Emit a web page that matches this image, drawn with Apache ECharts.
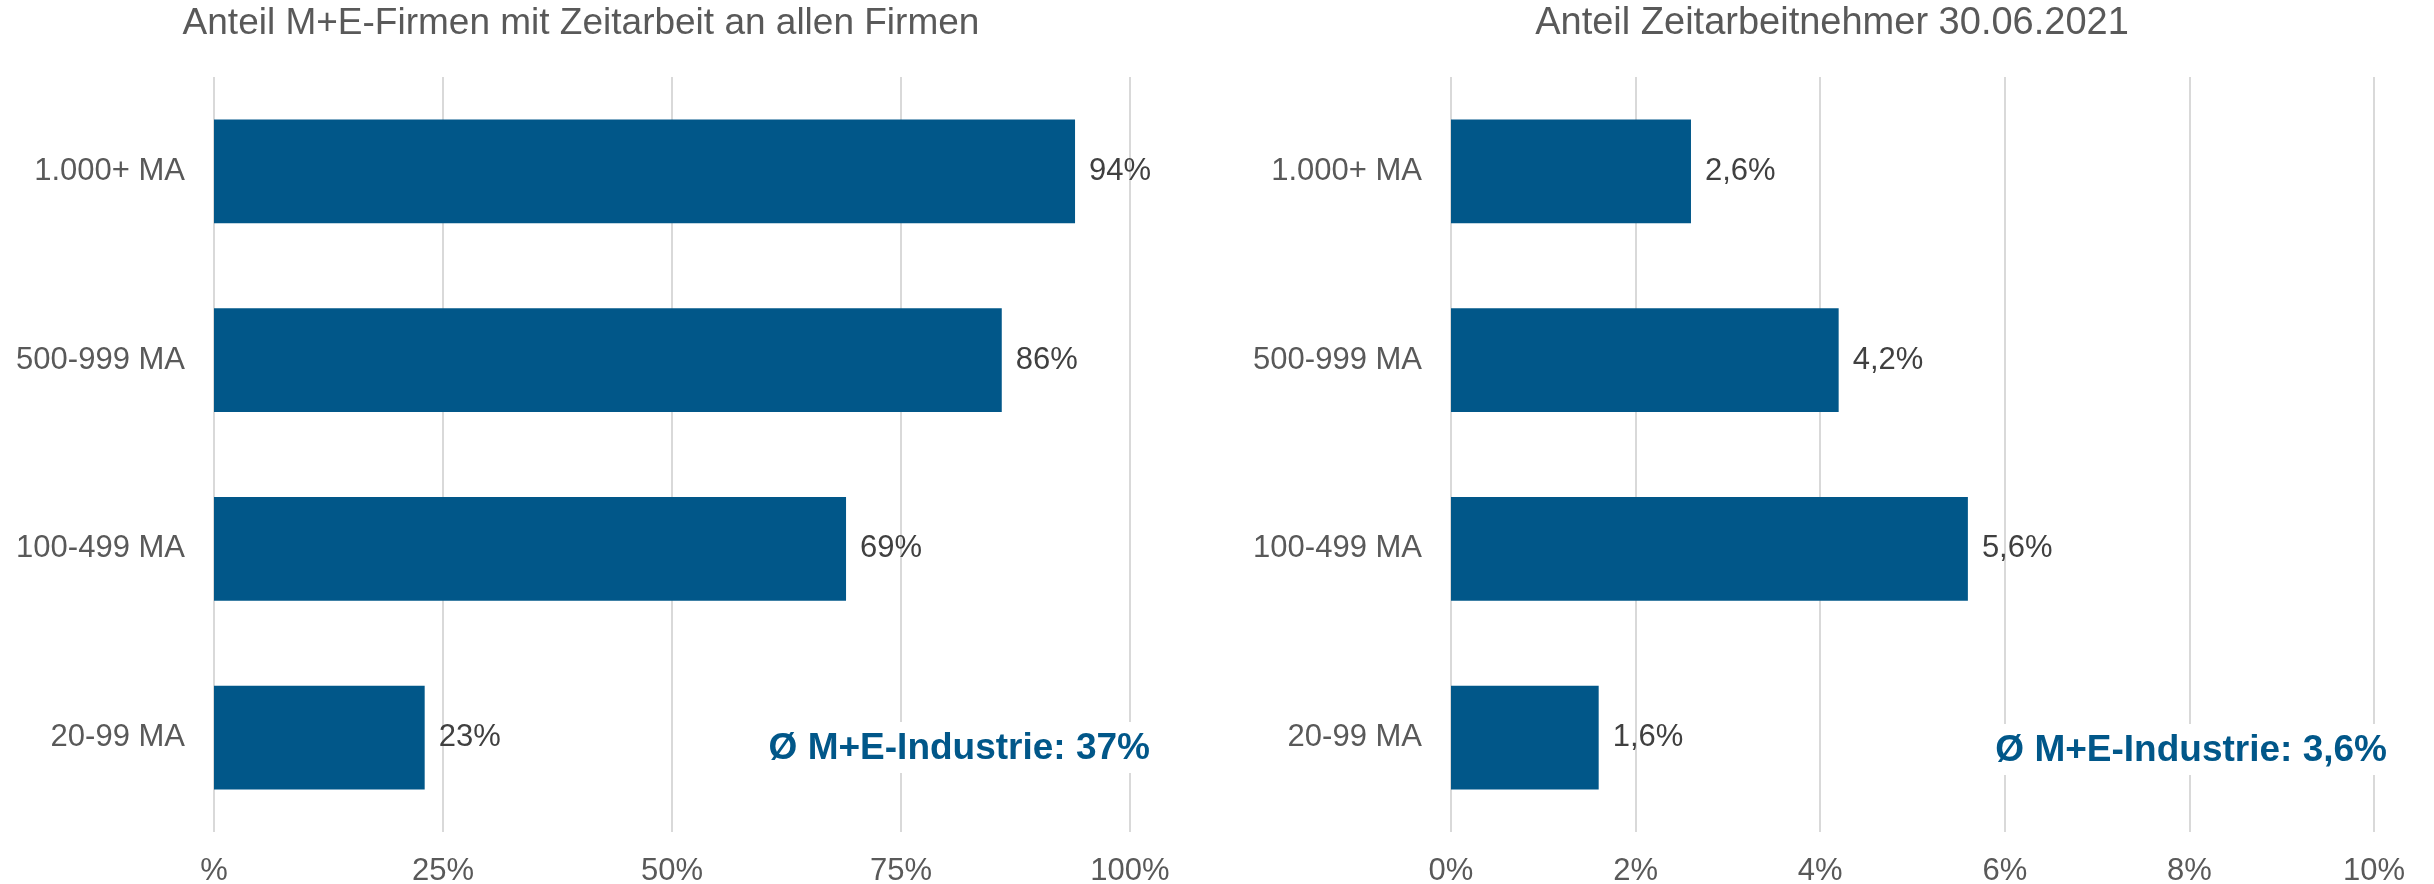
<!DOCTYPE html>
<html>
<head>
<meta charset="utf-8">
<title>Zeitarbeit M+E</title>
<script src="https://cdn.jsdelivr.net/npm/echarts@6/dist/echarts.min.js"></script>
<style>
  html, body { margin: 0; padding: 0; background: #fff; }
  #chart { width: 2434px; height: 884px; }
</style>
</head>
<body>
<div id="chart"></div>
<script>
// Daten
const categories = ['1.000+ MA', '500-999 MA', '100-499 MA', '20-99 MA'];
const firmenAnteil = [94, 86, 69, 23];          // Anteil M+E-Firmen mit Zeitarbeit, %
const zeitarbeitAnteil = [2.6, 4.2, 5.6, 1.6];  // Anteil Zeitarbeitnehmer, %
const leftTicks = ['%', '25%', '50%', '75%', '100%'];
const rightTicks = ['0%', '2%', '4%', '6%', '8%', '10%'];
const titles = ['Anteil M+E-Firmen mit Zeitarbeit an allen Firmen', 'Anteil Zeitarbeitnehmer 30.06.2021'];
const notes = ['Ø M+E-Industrie: 37%', 'Ø M+E-Industrie: 3,6%'];

const FONT = '"Liberation Sans", Arial, sans-serif';
const BLUE = '#015789';
const GREY = '#595959';

const fmt = (v) => String(v).replace('.', ',') + '%';

const chart = echarts.init(document.getElementById('chart'));

const catAxis = (gridIndex) => ({
  type: 'category',
  gridIndex: gridIndex,
  data: categories,
  inverse: true,
  axisLine: { show: false },
  axisTick: { show: false },
  axisLabel: { color: GREY, fontSize: 31, fontFamily: FONT, margin: 29 }
});

const valAxis = (gridIndex, max, interval, ticks) => ({
  type: 'value',
  gridIndex: gridIndex,
  min: 0,
  max: max,
  interval: interval,
  axisLine: { show: false },
  axisTick: { show: false },
  splitLine: { lineStyle: { color: '#d9d9d9', width: 2 } },
  axisLabel: {
    color: GREY,
    fontSize: 31,
    fontFamily: FONT,
    margin: 24,
    formatter: (v) => ticks[Math.round(v / interval)]
  }
});

const barSeries = (idx, data) => ({
  type: 'bar',
  xAxisIndex: idx,
  yAxisIndex: idx,
  data: data,
  barCategoryGap: '45%',
  itemStyle: { color: BLUE },
  label: {
    show: true,
    position: 'right',
    distance: 14,
    color: '#404040',
    fontSize: 31,
    fontFamily: FONT,
    formatter: (p) => fmt(p.value)
  }
});

const titleText = (text, x, size) => ({
  type: 'text',
  x: x,
  y: 24,
  style: {
    text: text,
    fill: GREY,
    fontSize: size,
    fontFamily: FONT,
    align: 'center',
    verticalAlign: 'middle'
  }
});

const option = {
  backgroundColor: '#fff',
  animation: false,
  title: [
    // Durchschnitt, weiss hinterlegt ueber den Gitterlinien
    { text: notes[0], right: 1280, top: 722, padding: [8, 4, 6, 4], backgroundColor: '#fff',
      textStyle: { color: BLUE, fontSize: 37, fontWeight: 'bold', fontFamily: FONT } },
    { text: notes[1], right: 43, top: 724, padding: [8, 4, 6, 4], backgroundColor: '#fff',
      textStyle: { color: BLUE, fontSize: 37, fontWeight: 'bold', fontFamily: FONT } }
  ],
  graphic: [
    titleText(titles[0], 581, 37),
    titleText(titles[1], 1832, 38)
  ],
  grid: [
    { left: 214, right: 1304, top: 77, bottom: 52, outerBoundsMode: 'none' },
    { left: 1451, right: 60, top: 77, bottom: 52, outerBoundsMode: 'none' }
  ],
  xAxis: [
    valAxis(0, 100, 25, leftTicks),
    valAxis(1, 10, 2, rightTicks)
  ],
  yAxis: [catAxis(0), catAxis(1)],
  series: [
    barSeries(0, firmenAnteil),
    barSeries(1, zeitarbeitAnteil)
  ]
};

chart.setOption(option);
</script>
</body>
</html>
